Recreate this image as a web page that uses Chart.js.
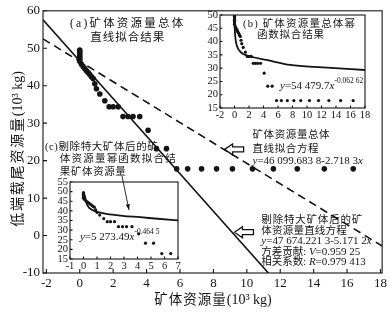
<!DOCTYPE html>
<html>
<head>
<meta charset="utf-8">
<script src="https://cdn.jsdelivr.net/npm/chart.js@4.4.1/dist/chart.umd.min.js"></script>
<style>
  body { margin: 0; background: #fff; }
  #wrap { position: relative; width: 390px; height: 315px; }
  canvas { position: absolute; }
</style>
</head>
<body>
<div id="wrap">
  <canvas id="mainChart" width="390" height="315" style="left:0;top:0"></canvas>
  <canvas id="insetB" width="182" height="120" style="left:190px;top:4px"></canvas>
  <canvas id="insetC" width="139" height="104" style="left:45px;top:168px"></canvas>
</div>
<script>
// ore body resource (10^3 kg) against low-end tail resource (10^3 kg)
const oreAmount = [0, 0, 0, 0, 0, 0, 0, 0.1, 0.2, 0.3, 0.4, 0.5, 0.6, 0.7, 0.8,
  0.9, 1.0, 1.2, 1.5, 1.76, 2.0, 2.3, 2.59, 2.89, 3.19, 3.59, 4.09, 4.59, 5.19,
  5.8, 6.46, 7.29, 8.19, 9.14, 10.34, 11.59, 13.02, 14.64, 16.37];
const tailAmount = [49.5, 49, 48.5, 48, 47.5, 47, 46.5, 45.7, 45.1, 44.6, 44.0, 43.5, 43.0, 42.4, 41.9,
  40.5, 39.2, 37.8, 36.0, 34.4, 34.4, 34.4, 31.8, 31.8, 31.8, 31.8, 28.1, 23.2, 23.2,
  17.8, 17.8, 17.8, 17.8, 17.8, 17.8, 17.8, 17.8, 17.8, 17.8];

// straight fits (end points)
const fitAllX = [-2.2, 18.1];
const fitAllY = [52.5, -2.8];
const fitTrimX = [-2.2, 11.29];
const fitTrimY = [57.6, -10];

// power fit curves of the insets
const bCurveX = [0.005, 0.03, 0.11, 0.3, 0.66, 1.2, 2.6, 4.4, 7.7, 12.2, 18];
const bCurveY = [50, 45.6, 41.8, 38.7, 36.6, 35.3, 34.1, 33.1, 31.2, 30.3, 29.3];
const cCurveX = [0.02, 0.1, 0.22, 0.45, 0.95, 1.7, 2.9, 4.2, 5.5, 7];
const cCurveY = [49, 47.8, 44, 41.4, 39.6, 38.4, 37.4, 36.7, 35.9, 35.1];

// tick labels
const mainXTicks = [-2, 0, 2, 4, 6, 8, 10, 12, 14, 16, 18];
const mainYTicks = [-10, 0, 10, 20, 30, 40, 50, 60];
const bXTicks = [-2, 0, 2, 4, 6, 8, 10, 12, 14, 16, 18];
const bYTicks = [15, 20, 25, 30, 35, 40, 45, 50];
const cXTicks = [-1, 0, 1, 2, 3, 4, 5, 6, 7];
const cYTicks = [15, 20, 25, 30, 35, 40, 45, 50, 55];

const INK = '#141414';
const SERIF = '"Liberation Serif", "Noto Sans CJK SC"';

const pts = (xs, ys) => xs.map((x, i) => ({ x: x, y: ys[i] }));
const T = (t, size, o) => Object.assign({ t: t, size: size }, o || {});

function fontOf(s) {
  return (s.it ? 'italic ' : '') + s.size + 'px ' + SERIF;
}

function drawRich(ctx, segs, x, y, align) {
  let total = 0;
  segs.forEach(s => {
    ctx.font = fontOf(s);
    ctx.letterSpacing = (s.ls || 0) + 'px';
    s.w = ctx.measureText(s.t).width;
    total += s.w;
  });
  let cx = align === 'center' ? x - total / 2 : x;
  segs.forEach(s => {
    ctx.font = fontOf(s);
    ctx.letterSpacing = (s.ls || 0) + 'px';
    ctx.fillText(s.t, cx, y + (s.dy || 0));
    cx += s.w;
  });
  ctx.letterSpacing = '0px';
}

function blockArrow(ctx, tx, ty) {
  const L = 19, H = 8, hh = 5.5, sh = 2.5;
  ctx.beginPath();
  ctx.moveTo(tx, ty);
  ctx.lineTo(tx + H, ty - hh);
  ctx.lineTo(tx + H, ty - sh);
  ctx.lineTo(tx + L, ty - sh);
  ctx.lineTo(tx + L, ty + sh);
  ctx.lineTo(tx + H, ty + sh);
  ctx.lineTo(tx + H, ty + hh);
  ctx.closePath();
  ctx.fillStyle = '#fff';
  ctx.fill();
  ctx.lineWidth = 1.3;
  ctx.stroke();
  ctx.fillStyle = INK;
}

function lineArrow(ctx, x1, y1, x2, y2) {
  ctx.beginPath();
  ctx.moveTo(x1, y1);
  ctx.lineTo(x2, y2);
  ctx.lineWidth = 0.9;
  ctx.stroke();
  const a = Math.atan2(y2 - y1, x2 - x1);
  ctx.beginPath();
  ctx.moveTo(x2, y2);
  ctx.lineTo(x2 - 6 * Math.cos(a - 0.35), y2 - 6 * Math.sin(a - 0.35));
  ctx.lineTo(x2 - 6 * Math.cos(a + 0.35), y2 - 6 * Math.sin(a + 0.35));
  ctx.closePath();
  ctx.fill();
}

// frame, inward ticks, notes and arrows placed in data units
function decor(notes, arrows, tickLen, extra) {
  return {
    id: 'decor',
    afterDraw(chart) {
      const { ctx, chartArea: a } = chart;
      const sx = chart.scales.x, sy = chart.scales.y;
      ctx.save();
      ctx.strokeStyle = INK;
      ctx.fillStyle = INK;
      ctx.lineWidth = 1.1;
      ctx.strokeRect(a.left, a.top, a.right - a.left, a.bottom - a.top);
      ctx.beginPath();
      sx.ticks.forEach(t => {
        const p = sx.getPixelForValue(t.value);
        ctx.moveTo(p, a.bottom);
        ctx.lineTo(p, a.bottom - tickLen);
      });
      sy.ticks.forEach(t => {
        const p = sy.getPixelForValue(t.value);
        ctx.moveTo(a.left, p);
        ctx.lineTo(a.left + tickLen, p);
      });
      ctx.stroke();
      ctx.textBaseline = 'middle';
      ctx.textAlign = 'left';
      notes.forEach(n => drawRich(ctx, n.segs, sx.getPixelForValue(n.x), sy.getPixelForValue(n.y), n.align));
      arrows.forEach(r => {
        if (r.kind === 'block') {
          blockArrow(ctx, sx.getPixelForValue(r.x), sy.getPixelForValue(r.y));
        } else {
          lineArrow(ctx, sx.getPixelForValue(r.x1), sy.getPixelForValue(r.y1),
            sx.getPixelForValue(r.x2), sy.getPixelForValue(r.y2));
        }
      });
      if (extra) extra(ctx);
      ctx.restore();
    }
  };
}

function axisOpts(min, max, ticks, size, fit, pad) {
  return {
    type: 'linear',
    min: min,
    max: max,
    afterBuildTicks: s => { s.ticks = ticks.map(v => ({ value: v })); },
    afterFit: fit,
    grid: { display: false, drawTicks: false },
    border: { display: false },
    ticks: {
      color: INK,
      padding: pad,
      autoSkip: false,
      maxRotation: 0,
      font: { family: SERIF, size: size }
    }
  };
}

const baseOpts = {
  responsive: false,
  animation: false,
  events: [],
  plugins: { legend: { display: false }, tooltip: { enabled: false } }
};

// ---------- main chart ----------
const mainNotes = [
  { x: 2.87, y: 56.5, align: 'center', segs: [T('(a)矿体资源量总体', 11.5, { ls: 2.2 })] },
  { x: 2.87, y: 52.8, align: 'center', segs: [T('直线拟合结果', 11.5, { ls: 1 })] },
  { x: 10.34, y: 26.7, segs: [T('矿体资源量总体', 10.5, { ls: 0.6 })] },
  { x: 10.34, y: 23.0, segs: [T('直线拟合方程', 10.5, { ls: 0.6 })] },
  { x: 10.34, y: 19.8, segs: [T('y', 11, { it: true }), T('=46 099.683 8-2.718 3', 11), T('x', 11, { it: true })] },
  { x: -2.08, y: 23.5, segs: [T('(c)剔除特大矿体后的矿', 10.5, { ls: 0.6 })] },
  { x: -1.19, y: 20.3, segs: [T('体资源量幂函数拟合结', 10.5, { ls: 1.2 })] },
  { x: -1.19, y: 16.9, segs: [T('果矿体资源量', 10.5, { ls: 0.6 })] },
  { x: 10.87, y: 4.1, segs: [T('剔除特大矿体后的矿', 10.5, { ls: 0.8 })] },
  { x: 10.87, y: 1.2, segs: [T('体资源量直线方程', 10.5, { ls: 0.2 })] },
  { x: 10.87, y: -1.5, segs: [T('y', 11, { it: true }), T('=47 674.221 3-5.171 2', 11), T('x', 11, { it: true })] },
  { x: 10.87, y: -4.4, segs: [T('方差贡献: ', 10.5), T('V', 11, { it: true }), T('=0.959 25', 11)] },
  { x: 10.87, y: -7.1, segs: [T('相关系数: ', 10.5), T('R', 11, { it: true }), T('=0.979 413', 11)] }
];
const mainArrows = [
  { kind: 'block', x: 8.67, y: 23.0 },
  { kind: 'block', x: 9.26, y: 0.9 }
];

function axisTitles(ctx) {
  ctx.textBaseline = 'middle';
  drawRich(ctx, [T('矿体资源量', 13.5, { ls: 1 }), T('(10³ kg)', 14)], 213, 300, 'center');
  ctx.save();
  ctx.translate(18, 149);
  ctx.rotate(-Math.PI / 2);
  drawRich(ctx, [T('低端载尾资源量', 14, { ls: 1.8 }), T('(10³ kg)', 14)], 0, 0, 'center');
  ctx.restore();
}

new Chart(document.getElementById('mainChart'), {
  type: 'scatter',
  data: {
    datasets: [
      {
        data: pts(oreAmount, tailAmount),
        backgroundColor: INK,
        borderWidth: 0,
        pointRadius: 2.8
      },
      {
        data: pts(fitTrimX, fitTrimY),
        showLine: true,
        borderColor: INK,
        borderWidth: 1.6,
        pointRadius: 0
      },
      {
        data: pts(fitAllX, fitAllY),
        showLine: true,
        borderColor: INK,
        borderWidth: 1.6,
        borderDash: [8, 5],
        pointRadius: 0
      }
    ]
  },
  options: Object.assign({}, baseOpts, {
    layout: { padding: { top: 10, right: 7, left: 0, bottom: 0 } },
    scales: {
      x: axisOpts(-2.2, 18.1, mainXTicks, 13, s => { s.height = 42; }, 3),
      y: axisOpts(-10, 60, mainYTicks, 13, s => { s.width = 43; }, 3)
    }
  }),
  plugins: [decor(mainNotes, mainArrows, 4, axisTitles)]
});

// ---------- inset (b): power fit of all ore bodies ----------
const bNotes = [
  { x: 1.17, y: 46.6, segs: [T('(b) 矿体资源量总体幂', 10.5, { ls: 1.2 })] },
  { x: 3.1, y: 42.5, segs: [T('函数拟合结果', 10.5, { ls: 0.8 })] },
  { x: 6.28, y: 23.3, segs: [T('y', 11, { it: true }), T('=54 479.7', 11), T('x', 11, { it: true }), T('-0.062 62', 7.5, { dy: -5 })] }
];

new Chart(document.getElementById('insetB'), {
  type: 'scatter',
  data: {
    datasets: [
      {
        data: pts(oreAmount, tailAmount),
        backgroundColor: INK,
        borderWidth: 0,
        pointRadius: 1.6
      },
      {
        data: pts(bCurveX, bCurveY),
        showLine: true,
        borderColor: INK,
        borderWidth: 1.8,
        pointRadius: 0,
        cubicInterpolationMode: 'monotone'
      }
    ]
  },
  options: Object.assign({}, baseOpts, {
    layout: { padding: { top: 11, right: 7, left: 0, bottom: 0 } },
    scales: {
      x: axisOpts(-2, 18, bXTicks, 10.5, s => { s.height = 16; }, 1),
      y: axisOpts(15, 50, bYTicks, 10.5, s => { s.width = 30; }, 2)
    }
  }),
  plugins: [decor(bNotes, [], 2.5)]
});

// ---------- inset (c): power fit without the largest ore body ----------
const cOre = oreAmount.filter(v => v <= 7);
const cTail = tailAmount.slice(0, cOre.length);
const cNotes = [
  { x: -0.26, y: 26.4, segs: [T('y', 11, { it: true }), T('=5 273.49', 11), T('x', 11, { it: true }), T('-0.464 5', 7.5, { dy: -5 })] }
];
const cArrows = [{ kind: 'line', x1: 2.85, y1: 58.1, x2: 3.37, y2: 40.5 }];

new Chart(document.getElementById('insetC'), {
  type: 'scatter',
  data: {
    datasets: [
      {
        data: pts(cOre, cTail),
        backgroundColor: INK,
        borderWidth: 0,
        pointRadius: 1.6
      },
      {
        data: pts(cCurveX, cCurveY),
        showLine: true,
        borderColor: INK,
        borderWidth: 1.8,
        pointRadius: 0,
        cubicInterpolationMode: 'monotone'
      }
    ]
  },
  options: Object.assign({}, baseOpts, {
    layout: { padding: { top: 14, right: 6, left: 0, bottom: 0 } },
    scales: {
      x: axisOpts(-1, 7, cXTicks, 10.5, s => { s.height = 13; }, 1),
      y: axisOpts(15, 55, cYTicks, 10.5, s => { s.width = 25; }, 2)
    }
  }),
  plugins: [decor(cNotes, cArrows, 2.5)]
});
</script>
</body>
</html>
